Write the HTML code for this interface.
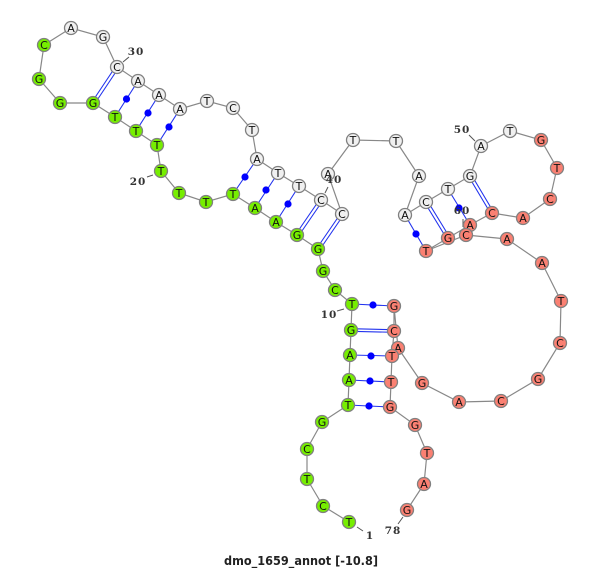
<!DOCTYPE html>
<html><head><meta charset="utf-8"><style>
html,body{margin:0;padding:0;background:#fff}
svg{display:block}
.n circle{stroke:#808080;stroke-width:1.3}
.n text{font:11px "DejaVu Sans",sans-serif;text-anchor:middle;fill:#111}
.g circle{fill:#76ee00}.r circle{fill:#fa8072}.w circle{fill:#f0f0f0}
.l{font:bold 10.5px "DejaVu Serif","Liberation Serif",serif;text-anchor:middle;fill:#333;letter-spacing:1px}
</style></head><body>
<svg width="600" height="569" viewBox="0 0 600 569" xmlns="http://www.w3.org/2000/svg">
<polyline fill="none" stroke="#888" stroke-width="1.2" points="349,522 323,506 307,479 307,449 322,422 348,405 349,380 350,355 351,330 352,304 335,290 323,271 318,249 297,235 276,222 255,208 233,194 206,202 179,193 161,171 157,145 136,131 115,117 93,103 60,103 39,79 44,45 71,28 103,37 117,67 138,81 159,95 180,109 207,101 233,108 252,130 257,159 278,173 299,186 321,200 342,214 328,174 353,140 396,141 419,176 405,215 426,202 448,189 470,176 481,146 510,131 541,140 557,168 550,199 523,218 492,213 470,225 448,238 426,251 466,235 507,239 542,263 561,301 560,343 538,379 501,401 459,402 422,383 398,348 394,306 394,331 392,356 391,382 390,407 415,425 427,453 424,484 407,510"/>
<g stroke="#2233ee" stroke-width="1.1" fill="none">
<path d="M115 117L138 81M136 131L159 95M157 145L180 109M233 194L257 159M255 208L278 173M276 222L299 186M405 215L426 251M448 189L470 225M352 304L394 306M350 355L392 356M349 380L391 382M348 405L390 407"/>
<path d="M92 102L116 66M94.500 104L118.500 68M296 234L320 199M298.500 236L322.500 201M317 248L341 213M319.500 250L343.500 215M427.500 201L449.500 237M425 203L447 239M471.500 175L493.500 212M469 177L491 214M351 328.700L394 329.700M351 331.300L394 332.300"/>
</g>
<g fill="#0000ff">
<circle cx="126.500" cy="99" r="3.600"/><circle cx="148" cy="113" r="3.600"/><circle cx="169" cy="127" r="3.600"/>
<circle cx="245" cy="177" r="3.600"/><circle cx="266" cy="190" r="3.600"/><circle cx="288" cy="204" r="3.600"/>
<circle cx="416" cy="234" r="3.600"/><circle cx="459" cy="208" r="3.600"/>
<circle cx="373" cy="305" r="3.600"/><circle cx="371" cy="356" r="3.600"/><circle cx="370" cy="381" r="3.600"/><circle cx="369" cy="406" r="3.600"/>
</g>
<g stroke="#555" stroke-width="1" fill="none">
<path d="M357 527L363 531M344 309L337 311M153 175L147 177M123 62L129 57M328 187L325 193M469 135L475 141M463 219L463 227M403 517L398 524"/>
</g>
<g class="n g">
<g><circle cx="349" cy="522" r="6.500"/><text x="349" y="526">T</text></g>
<g><circle cx="323" cy="506" r="6.500"/><text x="323" y="510">C</text></g>
<g><circle cx="307" cy="479" r="6.500"/><text x="307" y="483">T</text></g>
<g><circle cx="307" cy="449" r="6.500"/><text x="307" y="453">C</text></g>
<g><circle cx="322" cy="422" r="6.500"/><text x="322" y="426">G</text></g>
<g><circle cx="348" cy="405" r="6.500"/><text x="348" y="409">T</text></g>
<g><circle cx="349" cy="380" r="6.500"/><text x="349" y="384">A</text></g>
<g><circle cx="350" cy="355" r="6.500"/><text x="350" y="359">A</text></g>
<g><circle cx="351" cy="330" r="6.500"/><text x="351" y="334">G</text></g>
<g><circle cx="352" cy="304" r="6.500"/><text x="352" y="308">T</text></g>
<g><circle cx="335" cy="290" r="6.500"/><text x="335" y="294">C</text></g>
<g><circle cx="323" cy="271" r="6.500"/><text x="323" y="275">G</text></g>
<g><circle cx="318" cy="249" r="6.500"/><text x="318" y="253">G</text></g>
<g><circle cx="297" cy="235" r="6.500"/><text x="297" y="239">G</text></g>
<g><circle cx="276" cy="222" r="6.500"/><text x="276" y="226">A</text></g>
<g><circle cx="255" cy="208" r="6.500"/><text x="255" y="212">A</text></g>
<g><circle cx="233" cy="194" r="6.500"/><text x="233" y="198">T</text></g>
<g><circle cx="206" cy="202" r="6.500"/><text x="206" y="206">T</text></g>
<g><circle cx="179" cy="193" r="6.500"/><text x="179" y="197">T</text></g>
<g><circle cx="161" cy="171" r="6.500"/><text x="161" y="175">T</text></g>
<g><circle cx="157" cy="145" r="6.500"/><text x="157" y="149">T</text></g>
<g><circle cx="136" cy="131" r="6.500"/><text x="136" y="135">T</text></g>
<g><circle cx="115" cy="117" r="6.500"/><text x="115" y="121">T</text></g>
<g><circle cx="93" cy="103" r="6.500"/><text x="93" y="107">G</text></g>
<g><circle cx="60" cy="103" r="6.500"/><text x="60" y="107">G</text></g>
<g><circle cx="39" cy="79" r="6.500"/><text x="39" y="83">G</text></g>
<g><circle cx="44" cy="45" r="6.500"/><text x="44" y="49">C</text></g>
</g>
<g class="n w">
<g><circle cx="71" cy="28" r="6.500"/><text x="71" y="32">A</text></g>
<g><circle cx="103" cy="37" r="6.500"/><text x="103" y="41">G</text></g>
<g><circle cx="117" cy="67" r="6.500"/><text x="117" y="71">C</text></g>
<g><circle cx="138" cy="81" r="6.500"/><text x="138" y="85">A</text></g>
<g><circle cx="159" cy="95" r="6.500"/><text x="159" y="99">A</text></g>
<g><circle cx="180" cy="109" r="6.500"/><text x="180" y="113">A</text></g>
<g><circle cx="207" cy="101" r="6.500"/><text x="207" y="105">T</text></g>
<g><circle cx="233" cy="108" r="6.500"/><text x="233" y="112">C</text></g>
<g><circle cx="252" cy="130" r="6.500"/><text x="252" y="134">T</text></g>
<g><circle cx="257" cy="159" r="6.500"/><text x="257" y="163">A</text></g>
<g><circle cx="278" cy="173" r="6.500"/><text x="278" y="177">T</text></g>
<g><circle cx="299" cy="186" r="6.500"/><text x="299" y="190">T</text></g>
<g><circle cx="321" cy="200" r="6.500"/><text x="321" y="204">C</text></g>
<g><circle cx="342" cy="214" r="6.500"/><text x="342" y="218">C</text></g>
<g><circle cx="328" cy="174" r="6.500"/><text x="328" y="178">A</text></g>
<g><circle cx="353" cy="140" r="6.500"/><text x="353" y="144">T</text></g>
<g><circle cx="396" cy="141" r="6.500"/><text x="396" y="145">T</text></g>
<g><circle cx="419" cy="176" r="6.500"/><text x="419" y="180">A</text></g>
<g><circle cx="405" cy="215" r="6.500"/><text x="405" y="219">A</text></g>
<g><circle cx="426" cy="202" r="6.500"/><text x="426" y="206">C</text></g>
<g><circle cx="448" cy="189" r="6.500"/><text x="448" y="193">T</text></g>
<g><circle cx="470" cy="176" r="6.500"/><text x="470" y="180">G</text></g>
<g><circle cx="481" cy="146" r="6.500"/><text x="481" y="150">A</text></g>
<g><circle cx="510" cy="131" r="6.500"/><text x="510" y="135">T</text></g>
</g>
<g class="n r">
<g><circle cx="541" cy="140" r="6.500"/><text x="541" y="144">G</text></g>
<g><circle cx="557" cy="168" r="6.500"/><text x="557" y="172">T</text></g>
<g><circle cx="550" cy="199" r="6.500"/><text x="550" y="203">C</text></g>
<g><circle cx="523" cy="218" r="6.500"/><text x="523" y="222">A</text></g>
<g><circle cx="492" cy="213" r="6.500"/><text x="492" y="217">C</text></g>
<g><circle cx="470" cy="225" r="6.500"/><text x="470" y="229">A</text></g>
<g><circle cx="448" cy="238" r="6.500"/><text x="448" y="242">G</text></g>
<g><circle cx="426" cy="251" r="6.500"/><text x="426" y="255">T</text></g>
<g><circle cx="466" cy="235" r="6.500"/><text x="466" y="239">C</text></g>
<g><circle cx="507" cy="239" r="6.500"/><text x="507" y="243">A</text></g>
<g><circle cx="542" cy="263" r="6.500"/><text x="542" y="267">A</text></g>
<g><circle cx="561" cy="301" r="6.500"/><text x="561" y="305">T</text></g>
<g><circle cx="560" cy="343" r="6.500"/><text x="560" y="347">C</text></g>
<g><circle cx="538" cy="379" r="6.500"/><text x="538" y="383">G</text></g>
<g><circle cx="501" cy="401" r="6.500"/><text x="501" y="405">C</text></g>
<g><circle cx="459" cy="402" r="6.500"/><text x="459" y="406">A</text></g>
<g><circle cx="422" cy="383" r="6.500"/><text x="422" y="387">G</text></g>
<g><circle cx="394" cy="306" r="6.500"/><text x="394" y="310">G</text></g>
<g><circle cx="394" cy="331" r="6.500"/><text x="394" y="335">C</text></g>
<g><circle cx="398" cy="348" r="6.500"/><text x="398" y="352">A</text></g>
<g><circle cx="392" cy="356" r="6.500"/><text x="392" y="360">T</text></g>
<g><circle cx="391" cy="382" r="6.500"/><text x="391" y="386">T</text></g>
<g><circle cx="390" cy="407" r="6.500"/><text x="390" y="411">G</text></g>
<g><circle cx="415" cy="425" r="6.500"/><text x="415" y="429">G</text></g>
<g><circle cx="427" cy="453" r="6.500"/><text x="427" y="457">T</text></g>
<g><circle cx="424" cy="484" r="6.500"/><text x="424" y="488">A</text></g>
<g><circle cx="407" cy="510" r="6.500"/><text x="407" y="514">G</text></g>
</g>
<text class="l" x="370" y="539">1</text>
<text class="l" x="329" y="318">10</text>
<text class="l" x="138" y="185">20</text>
<text class="l" x="136" y="55">30</text>
<text class="l" x="334" y="183">40</text>
<text class="l" x="462" y="133">50</text>
<text class="l" x="462" y="214">60</text>
<text class="l" x="393" y="534">78</text>
<text x="301" y="565" text-anchor="middle" textLength="154" lengthAdjust="spacingAndGlyphs" style="font:bold 12px 'DejaVu Sans',sans-serif;fill:#222">dmo_1659_annot [-10.8]</text>
</svg>
</body></html>
